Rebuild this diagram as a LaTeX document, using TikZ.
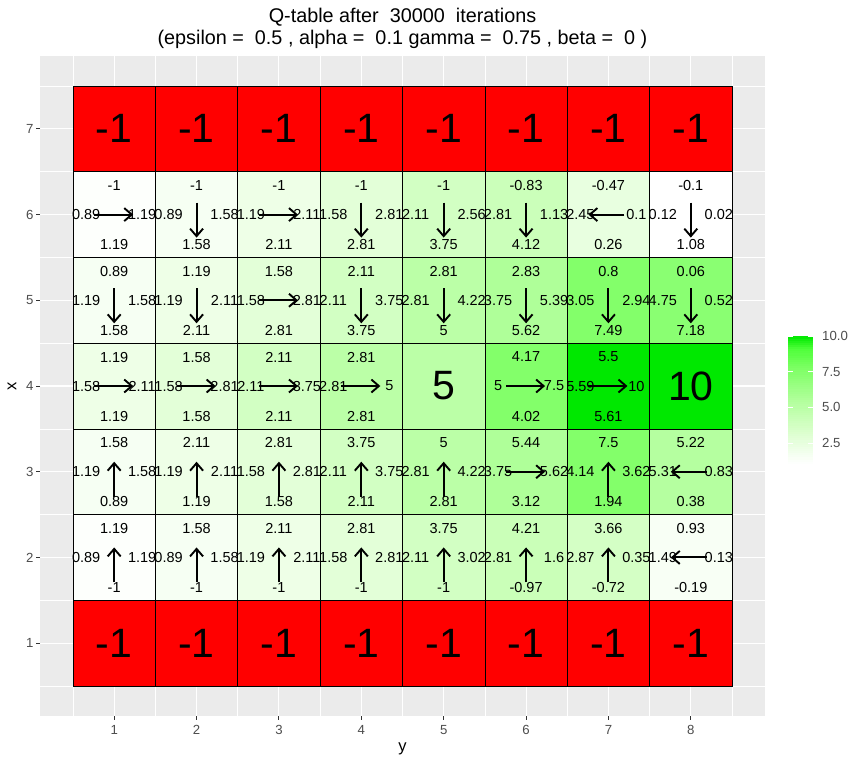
\documentclass[tikz,border=0pt]{standalone}
\usepackage{fontspec}
\setmainfont{Liberation Sans}
\usetikzlibrary{arrows.meta}
\definecolor{panelgrey}{RGB}{235,235,235}
\definecolor{ticklabel}{RGB}{77,77,77}
\definecolor{tickmark}{RGB}{51,51,51}
\definecolor{wallred}{RGB}{255,0,0}
\pgfdeclarelayer{panel}
\pgfdeclarelayer{tiles}
\pgfsetlayers{panel,tiles,main}

\tikzset{
  cellbox/.style={draw=black, line width=0.6pt, minimum width=82.375pt, minimum height=85.714pt, inner sep=0pt, outer sep=0pt},
  qval/.style={inner sep=0pt, font=\fontsize{14.5}{16}\selectfont},
  bigval/.style={inner sep=0pt, font=\fontsize{41}{44}\selectfont},
  best/.style={line width=1.9pt, -{Straight Barb[length=7.5pt,width=13pt]}},
  titletext/.style={inner sep=0pt, font=\fontsize{19.8}{22}\selectfont},
  axistitle/.style={inner sep=0pt, font=\fontsize{16.5}{18}\selectfont},
  ticktext/.style={inner sep=0pt, text=ticklabel, font=\fontsize{13.2}{15}\selectfont},
  majorgrid/.style={white, line width=1.1pt},
  minorgrid/.style={white, line width=0.55pt},
  tickline/.style={tickmark, line width=1pt}
}

% fill colour of a cell from its best Q value (white -> green)
\newcommand{\setfill}[1]{%
  \pgfmathsetmacro\tval{max(0,min(1,((#1)-1.08)/8.92))}%
  \pgfmathtruncatemacro\rval{max(0,\tval<0.25 ? 255-144*\tval : (\tval<0.5 ? 219-168*(\tval-0.25) : (\tval<0.75 ? 177-208*(\tval-0.5) : (\tval<0.9 ? 125-306.7*(\tval-0.75) : 79-790*(\tval-0.9)))))}%
  \pgfmathtruncatemacro\gval{\tval<0.9 ? 255 : 255-220*(\tval-0.9)}%
  \pgfmathtruncatemacro\bval{max(0,\tval<0.25 ? 255-200*\tval : (\tval<0.5 ? 205-200*(\tval-0.25) : (\tval<0.75 ? 155-220*(\tval-0.5) : (\tval<0.9 ? 100-280*(\tval-0.75) : 58-580*(\tval-0.9)))))}%
  \definecolor{cellfill}{RGB}{\rval,\gval,\bval}}

% best-action arrows
\newcommand{\bestR}[1]{\coordinate (#1-s) at ([xshift=-20pt]#1.center); \coordinate (#1-e) at ([xshift=19pt]#1.center); \draw[best] (#1-s) -- (#1-e);}
\newcommand{\bestL}[1]{\coordinate (#1-s) at ([xshift=16pt]#1.center); \coordinate (#1-e) at ([xshift=-20pt]#1.center); \draw[best] (#1-s) -- (#1-e);}
\newcommand{\bestD}[1]{\coordinate (#1-s) at ([yshift=12pt]#1.center); \coordinate (#1-e) at ([yshift=-23pt]#1.center); \draw[best] (#1-s) -- (#1-e);}
\newcommand{\bestU}[1]{\coordinate (#1-s) at ([yshift=-25pt]#1.center); \coordinate (#1-e) at ([yshift=10pt]#1.center); \draw[best] (#1-s) -- (#1-e);}

% name, col, row, best value, up, left, right, down, direction
\newcommand{\qcell}[9]{%
  \setfill{#4}
  \begin{pgfonlayer}{tiles}\node[cellbox, fill=cellfill] (#1) at (#2,#3) {};\end{pgfonlayer}
  \node[qval] (#1-u) at ([yshift=29pt]#1.center) {#5};
  \node[qval] (#1-l) at ([xshift=-28pt]#1.center) {#6};
  \node[qval] (#1-r) at ([xshift=28pt]#1.center) {#7};
  \node[qval] (#1-d) at ([yshift=-30pt]#1.center) {#8};
  \csname best#9\endcsname{#1}}
\newcommand{\bigcell}[5]{%
  \setfill{#4}
  \begin{pgfonlayer}{tiles}\node[cellbox, fill=cellfill] (#1) at (#2,#3) {};\end{pgfonlayer}
  \node[bigval] (#1-t) at (#1) {#5};}
\newcommand{\wallcell}[3]{%
  \begin{pgfonlayer}{tiles}\node[cellbox, fill=wallred] (#1) at (#2,#3) {};\end{pgfonlayer}
  \node[bigval] (#1-t) at (#1) {-1};}

\begin{document}
\begin{tikzpicture}[x=1pt, y=-1pt]
\useasboundingbox (0,0) rectangle (862,761);
\begin{pgfonlayer}{panel}
\fill[white] (0,0) rectangle (862,761);
\end{pgfonlayer}

% titles
\node[titletext] (title1) at (402.5,17) {Q-table after \ 30000 \ iterations};
\node[titletext] (title2) at (402.5,39) {(epsilon = \ 0.5 , alpha = \ 0.1 gamma = \ 0.75 , beta = \ 0 )};
\node[axistitle] (ytitle) at (402.5,749) {y};
\node[axistitle, rotate=90] (xtitle) at (12,386) {x};

\begin{scope}[shift={(31.81pt,-728.86pt)}, x=82.375pt, y=85.714pt]
% panel and grid
\begin{pgfonlayer}{panel}
\fill[panelgrey] (0.1,0.15) rectangle (8.9,7.85);
\foreach \c in {0.5,1.5,...,8.5} \draw[minorgrid] (\c,0.15) -- (\c,7.85);
\foreach \r in {0.5,1.5,...,7.5} \draw[minorgrid] (0.1,\r) -- (8.9,\r);
\foreach \c in {1,...,8} \draw[majorgrid] (\c,0.15) -- (\c,7.85);
\foreach \r in {1,...,7} \draw[majorgrid] (0.1,\r) -- (8.9,\r);
\end{pgfonlayer}

% axis ticks
\foreach \c in {1,...,8} {
  \draw[tickline] (\c,0.15) -- ++(0pt,-4pt);
  \node[ticktext] (xt\c) at ([yshift=-14pt]\c,0.15) {\c};
}
\foreach \r in {1,...,7} {
  \draw[tickline] (0.1,\r) -- ++(-4pt,0pt);
  \node[ticktext, anchor=east] (yt\r) at ([xshift=-6.5pt]0.1,\r) {\r};
}

% walls
\foreach \c in {1,...,8} {
  \wallcell{w7\c}{\c}{7}
  \wallcell{w1\c}{\c}{1}
}

% row 6
\qcell{q61}{1}{6}{1.19}{-1}{0.89}{1.19}{1.19}{R}
\qcell{q62}{2}{6}{1.58}{-1}{0.89}{1.58}{1.58}{D}
\qcell{q63}{3}{6}{2.11}{-1}{1.19}{2.11}{2.11}{R}
\qcell{q64}{4}{6}{2.81}{-1}{1.58}{2.81}{2.81}{D}
\qcell{q65}{5}{6}{3.75}{-1}{2.11}{2.56}{3.75}{D}
\qcell{q66}{6}{6}{4.12}{-0.83}{2.81}{1.13}{4.12}{D}
\qcell{q67}{7}{6}{2.45}{-0.47}{2.45}{0.1}{0.26}{L}
\qcell{q68}{8}{6}{1.08}{-0.1}{0.12}{0.02}{1.08}{D}
% row 5
\qcell{q51}{1}{5}{1.58}{0.89}{1.19}{1.58}{1.58}{D}
\qcell{q52}{2}{5}{2.11}{1.19}{1.19}{2.11}{2.11}{D}
\qcell{q53}{3}{5}{2.81}{1.58}{1.58}{2.81}{2.81}{R}
\qcell{q54}{4}{5}{3.75}{2.11}{2.11}{3.75}{3.75}{D}
\qcell{q55}{5}{5}{5}{2.81}{2.81}{4.22}{5}{D}
\qcell{q56}{6}{5}{5.62}{2.83}{3.75}{5.39}{5.62}{D}
\qcell{q57}{7}{5}{7.49}{0.8}{3.05}{2.94}{7.49}{D}
\qcell{q58}{8}{5}{7.18}{0.06}{4.75}{0.52}{7.18}{D}
% row 4
\qcell{q41}{1}{4}{2.11}{1.19}{1.58}{2.11}{1.19}{R}
\qcell{q42}{2}{4}{2.81}{1.58}{1.58}{2.81}{1.58}{R}
\qcell{q43}{3}{4}{3.75}{2.11}{2.11}{3.75}{2.11}{R}
\qcell{q44}{4}{4}{5}{2.81}{2.81}{5}{2.81}{R}
\bigcell{q45}{5}{4}{5}{5}
\qcell{q46}{6}{4}{7.5}{4.17}{5}{7.5}{4.02}{R}
\qcell{q47}{7}{4}{10}{5.5}{5.59}{10}{5.61}{R}
\bigcell{q48}{8}{4}{10}{10}
% row 3
\qcell{q31}{1}{3}{1.58}{1.58}{1.19}{1.58}{0.89}{U}
\qcell{q32}{2}{3}{2.11}{2.11}{1.19}{2.11}{1.19}{U}
\qcell{q33}{3}{3}{2.81}{2.81}{1.58}{2.81}{1.58}{U}
\qcell{q34}{4}{3}{3.75}{3.75}{2.11}{3.75}{2.11}{U}
\qcell{q35}{5}{3}{5}{5}{2.81}{4.22}{2.81}{U}
\qcell{q36}{6}{3}{5.62}{5.44}{3.75}{5.62}{3.12}{R}
\qcell{q37}{7}{3}{7.5}{7.5}{4.14}{3.62}{1.94}{U}
\qcell{q38}{8}{3}{5.31}{5.22}{5.31}{0.83}{0.38}{L}
% row 2
\qcell{q21}{1}{2}{1.19}{1.19}{0.89}{1.19}{-1}{U}
\qcell{q22}{2}{2}{1.58}{1.58}{0.89}{1.58}{-1}{U}
\qcell{q23}{3}{2}{2.11}{2.11}{1.19}{2.11}{-1}{U}
\qcell{q24}{4}{2}{2.81}{2.81}{1.58}{2.81}{-1}{U}
\qcell{q25}{5}{2}{3.75}{3.75}{2.11}{3.02}{-1}{U}
\qcell{q26}{6}{2}{4.21}{4.21}{2.81}{1.6}{-0.97}{U}
\qcell{q27}{7}{2}{3.66}{3.66}{2.87}{0.35}{-0.72}{U}
\qcell{q28}{8}{2}{1.49}{0.93}{1.49}{0.13}{-0.19}{L}
\end{scope}

% colour bar
\foreach \i in {0,...,59} {
  \pgfmathsetmacro\va{1.08+8.92*\i/60}
  \pgfmathsetmacro\vb{1.08+8.92*(\i+1)/60}
  \setfill{\va+0.074}
  \fill[cellfill] (788,{336+(10-\va)*14.28+0.4}) rectangle (813,{336+(10-\vb)*14.28-0.4});
}
\foreach \v/\lab in {10/10.0,7.5/7.5,5/5.0,2.5/2.5} {
  \draw[white, line width=0.8pt] (788,{336+(10-\v)*14.28}) -- ++(5,0);
  \draw[white, line width=0.8pt] (813,{336+(10-\v)*14.28}) -- ++(-5,0);
  \node[ticktext, anchor=west] (leg\v) at (822,{336+(10-\v)*14.28}) {\lab};
}
\end{tikzpicture}
\end{document}
